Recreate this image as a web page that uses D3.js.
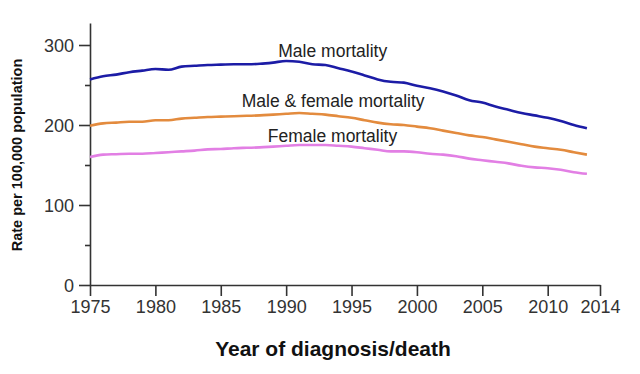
<html lang="en">
<head>
    <meta charset="utf-8">
    <title>Mortality rates 1975-2013</title>
    <script src="https://d3js.org/d3.v7.min.js"></script>
    <style type="text/css">
        body {
            margin: 0;
            background: #fff;
            font-family: "Liberation Sans", Arial, sans-serif;
        }
        .axis path,
        .axis line {
            fill: none;
            stroke: #333;
            stroke-width: 1.6px;
        }
        .axis text {
            fill: #333;
            font-size: 18px;
            font-family: "Liberation Sans", Arial, sans-serif;
        }
        .series {
            fill: none;
            stroke-width: 2.6px;
            stroke-linejoin: round;
        }
        .series-label {
            fill: #222;
            font-size: 17.5px;
        }
    </style>
</head>
<body>
<svg id="chart"></svg>
<script type="text/javascript">

    var years = d3.range(1975, 2014);

    var maleRate = [257, 261, 263, 266, 268, 270, 269, 273, 274, 275,
        275.5, 276, 276, 276.5, 278, 280, 279, 276, 275, 271,
        267, 262, 257, 254, 253, 249, 246, 242, 237, 231,
        228, 223, 219, 215, 212, 209, 205, 200, 196];

    var bothRate = [199, 202, 203, 204, 204, 206, 206, 208, 209, 210,
        210.5, 211, 211.5, 212, 213, 214, 215, 214, 213, 211,
        209, 206, 203, 201, 200, 198, 196, 193, 190, 187,
        185, 182, 179, 176, 173, 171, 169, 166, 163];

    var femaleRate = [160, 163, 163.5, 164, 164, 165, 166, 167, 168, 169.5,
        170, 171, 171.5, 172, 173, 174, 175, 175, 175, 174,
        173, 171, 169, 167, 167, 166, 164, 163, 161, 158,
        156, 154, 152, 149, 147, 146, 144, 141, 139];

    var seriesNames = ["Male mortality", "Male & female mortality", "Female mortality"];
    var seriesColors = ["#1c1ca6", "#e38b3e", "#e27fe4"];
    // label start: [year, value] where each name begins (baseline)
    var labelSpots = [[1989.4, 285], [1986.6, 222.5], [1988.6, 178.5]];

    var xTicks = [1975, 1980, 1985, 1990, 1995, 2000, 2005, 2010, 2014];
    var yTicks = [0, 100, 200, 300];
    var yMinor = [50, 150, 250];

    var width = 640, height = 374;
    var margin = {top: 23, left: 90};
    var plotW = 510, plotH = 262;

    var svg = d3.select("#chart")
        .attr("width", width)
        .attr("height", height);

    var g = svg.append("g")
        .attr("transform", "translate(" + margin.left + "," + margin.top + ")");

    var x = d3.scaleLinear().domain([1975, 2014]).range([0, plotW]);
    var y = d3.scaleLinear().domain([0, 327.5]).range([plotH, 0]);

    // y axis
    var yAxis = g.append("g")
        .attr("class", "axis")
        .call(d3.axisLeft(y).tickValues(yTicks).tickSize(11).tickPadding(5).tickSizeOuter(0));
    yAxis.selectAll("text").attr("dy", "0.36em");

    g.append("g")
        .attr("class", "axis")
        .call(d3.axisLeft(y).tickValues(yMinor).tickSize(5).tickFormat("").tickSizeOuter(0))
        .select(".domain").remove();

    // x axis
    var xAxis = g.append("g")
        .attr("class", "axis")
        .attr("transform", "translate(0," + plotH + ")")
        .call(d3.axisBottom(x).tickValues(xTicks).tickFormat(d3.format("d")).tickSize(11).tickPadding(4).tickSizeOuter(0));

    var series = [maleRate, bothRate, femaleRate];

    var line = d3.line()
        .x(function (d, i) { return x(years[i]); })
        .y(function (d) { return y(d); })
        .curve(d3.curveMonotoneX);

    g.selectAll(".series")
        .data(series)
        .enter().append("path")
        .attr("class", "series")
        .attr("stroke", function (d, i) { return seriesColors[i]; })
        .attr("d", line);

    g.selectAll(".series-label")
        .data(seriesNames)
        .enter().append("text")
        .attr("class", "series-label")
        .attr("x", function (d, i) { return x(labelSpots[i][0]); })
        .attr("y", function (d, i) { return y(labelSpots[i][1]); })
        .text(function (d) { return d; });

    // axis titles
    svg.append("text")
        .attr("transform", "translate(22," + (margin.top + y(162.5)) + ") rotate(-90)")
        .attr("text-anchor", "middle")
        .style("font-weight", "bold")
        .style("font-size", "14.5px")
        .style("fill", "#111")
        .text("Rate per 100,000 population");

    svg.append("text")
        .attr("x", 333)
        .attr("y", 356)
        .attr("text-anchor", "middle")
        .style("font-weight", "bold")
        .style("font-size", "21px")
        .style("fill", "#111")
        .text("Year of diagnosis/death");

</script>
</body>
</html>
